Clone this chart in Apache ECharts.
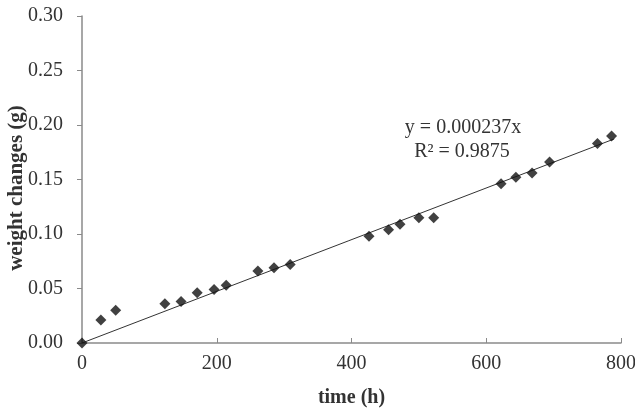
<!DOCTYPE html>
<html>
<head>
<meta charset="utf-8">
<script src="https://cdn.jsdelivr.net/npm/echarts@6/dist/echarts.min.js"></script>
<style>
  html, body { margin: 0; padding: 0; background: #fff; }
  #chart { width: 635px; height: 408px; }
</style>
</head>
<body>
<div id="chart"></div>
<script>
// measured points: time (h) vs weight change (g)
const timeH = [0, 28, 50, 123, 147, 171, 196, 214, 261, 285, 309,
               426, 455, 472, 500, 522, 622, 644, 668, 694, 765, 786];
const weightG = [0, 0.021, 0.030, 0.036, 0.038, 0.046, 0.049, 0.053, 0.066, 0.069, 0.072,
                 0.098, 0.104, 0.109, 0.115, 0.115, 0.146, 0.152, 0.156, 0.166, 0.183, 0.190];

// linear fit through origin, as printed on the chart
const slope = 0.000237;
const fitX = [0, 790];
const eqLabel = 'y = 0.000237x';
const r2Label = 'R\u00B2 = 0.9875';
const yTitle = 'weight changes (g)';

const xTicks = [0, 200, 400, 600, 800];
const yTicks = ['0.00', '0.05', '0.10', '0.15', '0.20', '0.25', '0.30'];

const serif = '"Liberation Serif", "Times New Roman", serif';
const textCol = '#333';
const axisCol = '#8a8a8a';

const chart = echarts.init(document.getElementById('chart'));

chart.setOption({
  backgroundColor: '#fff',
  animation: false,
  grid: { left: 82, right: 14, top: 16, bottom: 65, containLabel: false, outerBoundsMode: 'none' },
  xAxis: {
    type: 'value',
    min: 0, max: 800, interval: 200,
    name: 'time (h)',
    nameLocation: 'middle',
    nameGap: 45,
    nameTextStyle: { fontFamily: serif, fontSize: 20, fontWeight: 'bold', color: textCol },
    axisLine: { show: true, lineStyle: { color: axisCol, width: 1.5 } },
    axisTick: { show: true, inside: true, length: 5, lineStyle: { color: axisCol } },
    splitLine: { show: false },
    axisLabel: {
      fontFamily: serif, fontSize: 20, color: textCol, margin: 11,
      formatter: v => xTicks.includes(v) ? String(v) : ''
    }
  },
  yAxis: {
    type: 'value',
    min: 0, max: 0.3, interval: 0.05,
    axisLine: { show: true, lineStyle: { color: axisCol, width: 1.5 } },
    axisTick: { show: true, inside: false, length: 5, lineStyle: { color: axisCol } },
    splitLine: { show: false },
    axisLabel: {
      fontFamily: serif, fontSize: 20, color: textCol, margin: 19,
      formatter: v => yTicks[Math.round(v / 0.05)]
    }
  },
  graphic: [
    {
      // y-axis title, drawn by hand so it sits where the reference has it
      type: 'text', x: 17, y: 188, rotation: Math.PI / 2,
      style: { text: yTitle, font: 'bold 21px ' + serif, fill: textCol, align: 'center', verticalAlign: 'middle' }
    },
    {
      type: 'text', x: 463, y: 128,
      style: { text: eqLabel, font: '20px ' + serif, fill: textCol, align: 'center', verticalAlign: 'middle' }
    },
    {
      type: 'text', x: 462, y: 152,
      style: { text: r2Label, font: '20px ' + serif, fill: textCol, align: 'center', verticalAlign: 'middle' }
    }
  ],
  series: [
    {
      name: 'fit',
      type: 'line',
      data: fitX.map(x => [x, slope * x]),
      showSymbol: false,
      lineStyle: { color: '#333', width: 1 },
      z: 2
    },
    {
      name: 'weight',
      type: 'scatter',
      data: timeH.map((t, i) => [t, weightG[i]]),
      symbol: 'diamond',
      symbolSize: 11,
      itemStyle: { color: '#111' },
      z: 3
    }
  ]
});
</script>
</body>
</html>
